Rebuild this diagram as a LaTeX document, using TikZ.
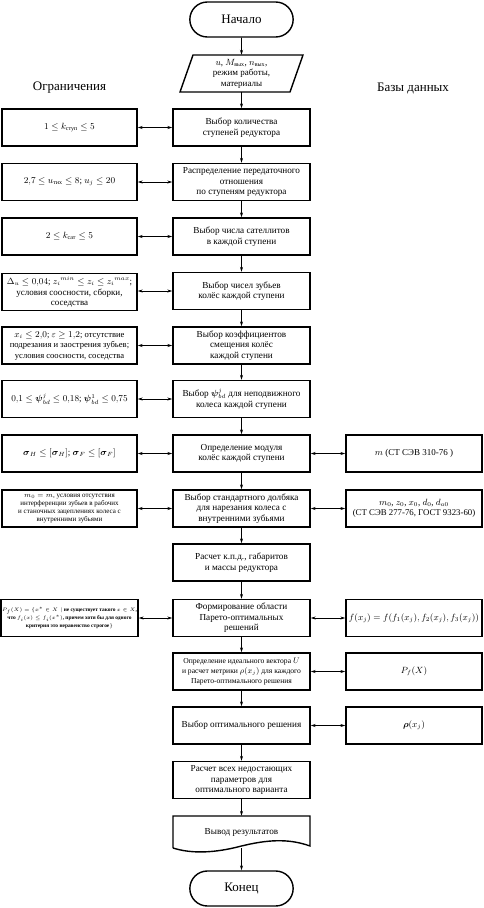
\documentclass[tikz,border=0pt]{standalone}
\usepackage{fontspec}
\usepackage{amsmath}
\usepackage{amssymb}
\setmainfont{Liberation Serif}
\usetikzlibrary{arrows.meta,shapes.misc}
\begin{document}
\begin{tikzpicture}[x=1pt,y=-1pt,
  frame/.style={line width=1.4pt},
  basebox/.style={draw,frame,rectangle,minimum height=37pt,align=center,inner sep=1pt},
  cbox/.style={basebox,minimum width=137pt,font=\fontsize{9.2}{10.6}\selectfont},
  lbox/.style={basebox,minimum width=135pt,font=\fontsize{9}{10.6}\selectfont},
  rbox/.style={basebox,minimum width=136pt,font=\fontsize{9}{10.6}\selectfont},
  term/.style={draw,frame,rounded rectangle,minimum width=110pt,minimum height=35pt,font=\fontsize{13}{15}\selectfont},
  arr/.style={line width=0.6pt,-{Stealth[length=5pt,width=3pt]}},
  dbl/.style={line width=0.6pt,{Stealth[length=5pt,width=3pt]}-{Stealth[length=5pt,width=3pt]}},
  head/.style={font=\fontsize{13}{15}\selectfont}
]
\useasboundingbox (0,0) rectangle (483,908);

% headings
\node[head] (hl) at (69.5,88) {Ограничения};
\node[head] (hr) at (413,88) {Базы данных};

% start
\node[term] (start) at (241.5,19.5) {Начало};

% input parallelogram
\node[minimum width=110pt,minimum height=37pt,align=center,inner sep=0pt,font=\fontsize{9}{10.5}\selectfont] (par) at (241.5,73.5) {$u$, $M_{\text{вых}}$, $n_{\text{вых}}$,\\режим работы,\\материалы};
\draw[frame] (193,55) -- (303,55) -- (290,92) -- (180,92) -- cycle;

% centre column
\node[cbox] (b1) at (241.5,127.5) {Выбор количества\\ступеней редуктора};
\node[cbox] (b2) at (241.5,182) {Распределение передаточного\\отношения\\по ступеням редуктора};
\node[cbox] (b3) at (241.5,236.5) {Выбор числа сателлитов\\в каждой ступени};
\node[cbox] (b4) at (241.5,291) {Выбор чисел зубьев\\колёс каждой ступени};
\node[cbox] (b5) at (241.5,345.5) {Выбор коэффициентов\\смещения колёс\\каждой ступени};
\node[cbox] (b6) at (241.5,399) {Выбор $\boldsymbol{\psi}^{j}_{bd}$ для неподвижного\\[1pt]колеса каждой ступени};
\node[cbox] (b7) at (241.5,453.5) {Определение модуля\\колёс каждой ступени};
\node[cbox] (b8) at (241.5,508.5) {Выбор стандартного долбяка\\для нарезания колеса с\\внутренними зубьями};
\node[cbox] (b9) at (241.5,562.5) {Расчет к.п.д., габаритов\\и массы редуктора};
\node[cbox] (b10) at (241.5,618) {Формирование области\\Парето-оптимальных\\решений};
\node[cbox,font=\fontsize{7.6}{9.8}\selectfont] (b11) at (241.5,671.5) {Определение идеального вектора $U$\\и расчет метрики $\rho(x_j)$ для каждого\\Парето-оптимального решения};
\node[cbox] (b12) at (241.5,725.5) {Выбор оптимального решения};
\node[cbox] (b13) at (241.5,780) {Расчет всех недостающих\\параметров для\\оптимального варианта};

% document shape
\node[minimum width=137pt,minimum height=32pt,inner sep=0pt,font=\fontsize{9.2}{10.6}\selectfont] (doc) at (241.5,832) {Вывод результатов};
\draw[frame] (173,848) -- (173,816) -- (310,816) -- (310,846)
  .. controls (288,838) and (266,840) .. (241.5,846)
  .. controls (215,853) and (192,854) .. (173,848);

% end
\node[term] (end) at (241.5,888.5) {Конец};

% left column
\node[lbox] (l1) at (69.5,127.5) {$1\le k_{\text{ступ}}\le 5$};
\node[lbox] (l2) at (69.5,182) {$2{,}7\le u_{\text{тих}}\le 8$; $u_j\le 20$};
\node[lbox] (l3) at (69.5,236.5) {$2\le k_{\text{сат}}\le 5$};
\node[lbox,font=\fontsize{9}{10}\selectfont] (l4) at (69.5,292) {$\Delta_u\le 0{,}04$; ${z_i}^{min}\le z_i\le {z_i}^{max}$;\\[1.5pt]условия соосности, сборки,\\соседства};
\node[lbox,font=\fontsize{8.6}{10.5}\selectfont] (l5) at (69.5,345.5) {$x_i\le 2{,}0$; $\varepsilon\ge 1{,}2$; отсутствие\\подрезания и заострения зубьев;\\условия соосности, соседства};
\node[lbox] (l6) at (69.5,399) {$0{,}1\le\boldsymbol{\psi}^{j}_{bd}\le 0{,}18$; $\boldsymbol{\psi}^{1}_{bd}\le 0{,}75$};
\node[lbox] (l7) at (69.5,453.5) {$\boldsymbol{\sigma}_H\le[\boldsymbol{\sigma}_H]$; $\boldsymbol{\sigma}_F\le[\boldsymbol{\sigma}_F]$};
\node[lbox,font=\fontsize{7}{8.2}\selectfont] (l8) at (69.5,508.5) {$m_0=m$, условия отсутствия\\интерференции зубьев в рабочих\\и станочных зацеплениях колеса с\\внутренними зубьями};
\node[lbox,font=\fontsize{5.4}{8}\selectfont\bfseries] (l10) at (69.5,618) {$P_f(X)=\{x^*\in X\mid$ не существует такого $x\in X$,\\что $f_i(x)\le f_i(x^*)$, причем хотя бы для одного\\критерия это неравенство строгое$\}$};

% right column
\node[rbox] (r7) at (414,453.5) {$m$ (СТ СЭВ 310-76 )};
\node[rbox,font=\fontsize{8.8}{10.6}\selectfont] (r8) at (414,508.5) {$m_0$, $z_0$, $x_0$, $d_0$, $d_{a0}$\\(СТ СЭВ 277-76, ГОСТ 9323-60)};
\node[rbox] (r10) at (414,618) {$f(x_j)=f(f_1(x_j),f_2(x_j),f_3(x_j))$};
\node[rbox] (r11) at (414,671.5) {$P_f(X)$};
\node[rbox] (r12) at (414,725.5) {$\boldsymbol{\rho}(x_j)$};

% vertical flow
\draw[arr] (start) -- (par);
\draw[arr] (par) -- (b1);
\draw[arr] (b1) -- (b2);
\draw[arr] (b2) -- (b3);
\draw[arr] (b3) -- (b4);
\draw[arr] (b4) -- (b5);
\draw[arr] (b5) -- (b6);
\draw[arr] (b6) -- (b7);
\draw[arr] (b7) -- (b8);
\draw[arr] (b8) -- (b9);
\draw[arr] (b9) -- (b10);
\draw[arr] (b10) -- (b11);
\draw[arr] (b11) -- (b12);
\draw[arr] (b12) -- (b13);
\draw[arr] (b13) -- (doc.north);
\draw[arr] (doc.south) -- (end);

% left links
\draw[dbl] (l1) -- (b1);
\draw[dbl] (l2) -- (b2);
\draw[dbl] (l3) -- (b3);
\draw[dbl] (l4.east |- b4) -- (b4);
\draw[dbl] (l5) -- (b5);
\draw[dbl] (l6) -- (b6);
\draw[dbl] (l7) -- (b7);
\draw[dbl] (l8) -- (b8);
\draw[dbl] (l10) -- (b10);

% right links
\draw[dbl] (b7) -- (r7);
\draw[dbl] (b8) -- (r8);
\draw[dbl] (b10) -- (r10);
\draw[dbl] (b11) -- (r11);
\draw[dbl] (b12) -- (r12);
\end{tikzpicture}
\end{document}
